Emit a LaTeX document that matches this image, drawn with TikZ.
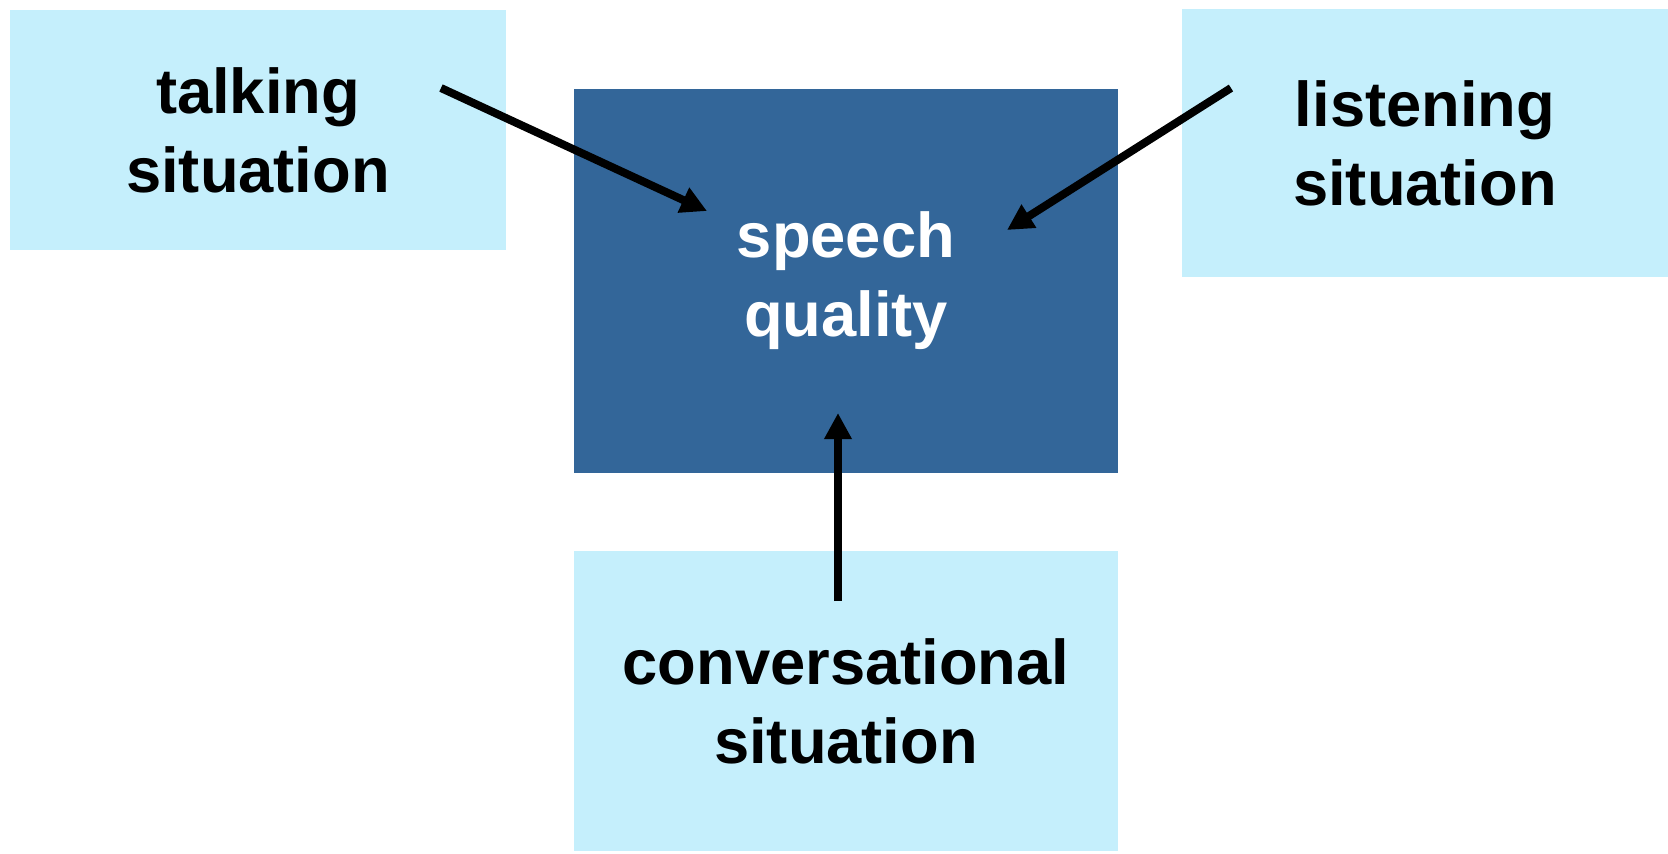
\documentclass[tikz,border=0pt]{standalone}
\usepackage{fontspec}
\setmainfont{Liberation Sans}
\usetikzlibrary{arrows.meta}
\definecolor{boxcyan}{RGB}{197,239,252}
\definecolor{boxblue}{RGB}{51,102,153}
\begin{document}
\begin{tikzpicture}[x=0.01cm,y=-0.01cm,
  situation/.style={fill=boxcyan, text=black, inner sep=0pt, align=center,
    font=\fontsize{18}{22.5}\selectfont\bfseries},
  qualitybox/.style={situation, fill=boxblue, text=white},
  influence/.style={line width=0.08cm, -{Triangle[length=0.26cm,width=0.26cm]}}]
\useasboundingbox (0,0) rectangle (1668,853);
% the four boxes
\node[situation, minimum width=4.96cm, minimum height=2.39cm] (talking) at (258,130) {talking\\situation};
\node[situation, minimum width=4.86cm, minimum height=2.67cm] (listening) at (1425,143) {listening\\situation};
\node[qualitybox, minimum width=5.44cm, minimum height=3.83cm] (quality) at (846,281) {speech\\quality};
\node[situation, minimum width=5.44cm, minimum height=3.00cm] (conversation) at (846,701) {conversational\\situation};
% arrows
\coordinate (talkfrom) at (441,88);
\coordinate (talkto) at (707,211);
\coordinate (listenfrom) at (1231,88);
\coordinate (listento) at (1007,230);
\coordinate (convfrom) at (838,601);
\coordinate (convto) at (838,413);
\draw[influence] (talkfrom) -- (talkto);
\draw[influence] (listenfrom) -- (listento);
\draw[influence] (convfrom) -- (convto);
\end{tikzpicture}
\end{document}
